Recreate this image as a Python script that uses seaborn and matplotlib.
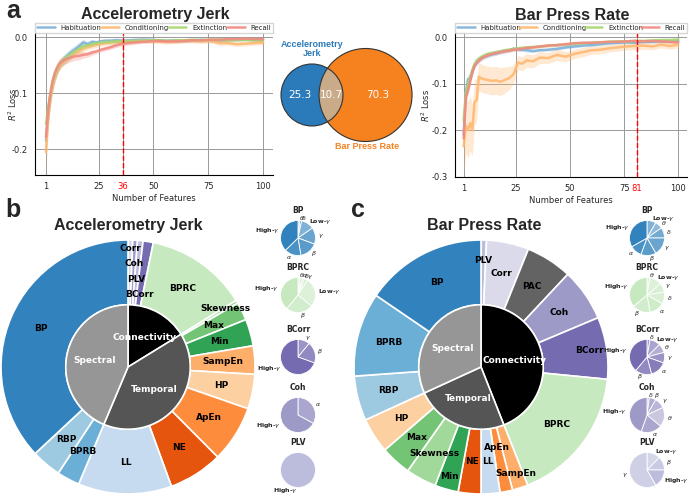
import numpy as np
import matplotlib
matplotlib.use('Agg')
import matplotlib.pyplot as plt
import matplotlib.colors as mcolors
from matplotlib.patches import Circle
import seaborn as sns

W, H = 690, 496

# ---- panel a: feature-count curves ----
PHASES = ['Habituation', 'Conditioning', 'Extinction', 'Recall']
PHASE_COLORS = ['#7fb2da', '#ffb870', '#a8d672', '#f28a80']

FEATURES = [1, 2, 3, 4, 5, 6, 7, 8, 9, 10, 12, 14, 16, 18, 20, 22, 24, 26, 28, 30,
            33, 36, 40, 44, 48, 52, 56, 60, 64, 68, 72, 76, 80, 84, 88, 92, 96, 100]

JERK_HAB = [-0.185, -0.14, -0.105, -0.085, -0.07, -0.058, -0.05, -0.044, -0.04, -0.036, -0.028, -0.022,
            -0.016, -0.009, -0.012, -0.008, -0.009, -0.007, -0.006, -0.006, -0.005, -0.006, -0.005, -0.004,
            -0.004, -0.005, -0.006, -0.005, -0.006, -0.005, -0.004, -0.006, -0.005, -0.004, -0.004, -0.003,
            -0.004, -0.003]
JERK_COND = [-0.205, -0.145, -0.11, -0.088, -0.072, -0.06, -0.052, -0.047, -0.043, -0.04, -0.034, -0.028,
             -0.024, -0.02, -0.017, -0.015, -0.013, -0.011, -0.01, -0.009, -0.008, -0.008, -0.007, -0.006,
             -0.006, -0.007, -0.008, -0.007, -0.006, -0.006, -0.007, -0.006, -0.01, -0.01, -0.012, -0.011,
             -0.01, -0.009]
JERK_EXT = [-0.155, -0.125, -0.1, -0.08, -0.067, -0.056, -0.049, -0.044, -0.04, -0.037, -0.031, -0.025,
            -0.02, -0.016, -0.014, -0.012, -0.01, -0.009, -0.008, -0.008, -0.007, -0.007, -0.006, -0.006,
            -0.005, -0.005, -0.006, -0.005, -0.005, -0.004, -0.005, -0.004, -0.004, -0.005, -0.004, -0.004,
            -0.005, -0.005]
JERK_REC = [-0.178, -0.13, -0.1, -0.078, -0.064, -0.055, -0.048, -0.044, -0.041, -0.039, -0.036, -0.034,
            -0.033, -0.031, -0.03, -0.027, -0.025, -0.022, -0.02, -0.018, -0.014, -0.011, -0.009, -0.008,
            -0.007, -0.006, -0.007, -0.007, -0.006, -0.005, -0.005, -0.004, -0.004, -0.003, -0.003, -0.002,
            -0.003, -0.003]
JERK_SD = [0.02, 0.018, 0.015, 0.013, 0.011, 0.01, 0.009, 0.008, 0.008, 0.008, 0.008, 0.007, 0.007, 0.006,
           0.005, 0.005, 0.004, 0.004, 0.004, 0.004, 0.004, 0.004, 0.004, 0.003, 0.003, 0.003, 0.003, 0.003,
           0.003, 0.003, 0.003, 0.003, 0.003, 0.003, 0.003, 0.003, 0.003, 0.003]
JERK_COND_SD = [0.04, 0.02, 0.015, 0.013, 0.011, 0.01, 0.009, 0.008, 0.008, 0.007, 0.007, 0.006, 0.006,
                0.005, 0.005, 0.005, 0.005, 0.005, 0.005, 0.005, 0.005, 0.005, 0.005, 0.004, 0.004, 0.004,
                0.004, 0.004, 0.004, 0.004, 0.004, 0.004, 0.004, 0.004, 0.004, 0.004, 0.004, 0.004]

BAR_HAB = [-0.21, -0.12, -0.09, -0.09, -0.075, -0.06, -0.055, -0.05, -0.046, -0.043, -0.04, -0.037,
           -0.035, -0.032, -0.03, -0.028, -0.025, -0.026, -0.027, -0.028, -0.03, -0.028, -0.027, -0.025,
           -0.022, -0.02, -0.018, -0.017, -0.015, -0.013, -0.012, -0.011, -0.012, -0.01, -0.01, -0.009,
           -0.009, -0.008]
BAR_COND = [-0.235, -0.19, -0.2, -0.185, -0.2, -0.14, -0.135, -0.085, -0.088, -0.09, -0.092, -0.094,
            -0.093, -0.096, -0.092, -0.088, -0.08, -0.055, -0.057, -0.05, -0.052, -0.044, -0.045, -0.038,
            -0.042, -0.036, -0.032, -0.028, -0.027, -0.024, -0.022, -0.02, -0.019, -0.018, -0.02, -0.016,
            -0.019, -0.016]
BAR_EXT = [-0.18, -0.12, -0.1, -0.085, -0.07, -0.058, -0.05, -0.046, -0.043, -0.04, -0.036, -0.034,
           -0.032, -0.03, -0.028, -0.027, -0.025, -0.024, -0.023, -0.022, -0.021, -0.02, -0.018, -0.017,
           -0.016, -0.014, -0.013, -0.012, -0.011, -0.01, -0.009, -0.009, -0.008, -0.008, -0.007, -0.006,
           -0.006, -0.005]
BAR_REC = [-0.218, -0.13, -0.115, -0.095, -0.075, -0.062, -0.055, -0.05, -0.046, -0.043, -0.039, -0.036,
           -0.034, -0.032, -0.03, -0.029, -0.027, -0.026, -0.025, -0.023, -0.022, -0.02, -0.018, -0.017,
           -0.015, -0.013, -0.012, -0.012, -0.011, -0.01, -0.01, -0.009, -0.008, -0.009, -0.008, -0.009,
           -0.01, -0.011]
BAR_SD = [0.02, 0.015, 0.01, 0.008, 0.007, 0.006, 0.005, 0.005, 0.005, 0.005, 0.004, 0.004, 0.004, 0.004,
          0.004, 0.004, 0.004, 0.004, 0.004, 0.004, 0.003, 0.003, 0.003, 0.003, 0.003, 0.003, 0.003, 0.003,
          0.003, 0.003, 0.003, 0.003, 0.003, 0.003, 0.003, 0.003, 0.003, 0.003]
BAR_COND_SD = [0.06, 0.06, 0.06, 0.06, 0.055, 0.05, 0.045, 0.03, 0.03, 0.03, 0.03, 0.03, 0.03, 0.03,
               0.028, 0.025, 0.02, 0.015, 0.015, 0.015, 0.014, 0.013, 0.012, 0.012, 0.011, 0.01, 0.01,
               0.009, 0.009, 0.008, 0.008, 0.008, 0.008, 0.008, 0.007, 0.007, 0.007, 0.007]

JERK_CUT = 36
BAR_CUT = 81

# ---- venn ----
VENN_ONLY_JERK = 25.3
VENN_SHARED = 10.7
VENN_ONLY_BAR = 70.3

# ---- panels b, c: feature importance donuts ----
FEATURE_GROUP = {'BP': 'Spectral', 'BPRB': 'Spectral', 'RBP': 'Spectral',
                 'LL': 'Temporal', 'NE': 'Temporal', 'ApEn': 'Temporal', 'SampEn': 'Temporal',
                 'HP': 'Temporal', 'Min': 'Temporal', 'Max': 'Temporal', 'Skewness': 'Temporal',
                 'BPRC': 'Connectivity', 'BCorr': 'Connectivity', 'Coh': 'Connectivity',
                 'PLV': 'Connectivity', 'Corr': 'Connectivity', 'PAC': 'Connectivity'}
FEATURE_COLORS = {'BP': '#3182bd', 'BPRB': '#6baed6', 'RBP': '#9ecae1', 'LL': '#c6dbef',
                  'NE': '#e6550d', 'ApEn': '#fd8d3c', 'SampEn': '#fdae6b', 'HP': '#fdd0a2',
                  'Min': '#31a354', 'Max': '#74c476', 'Skewness': '#a1d99b', 'BPRC': '#c7e9c0',
                  'BCorr': '#756bb1', 'Coh': '#9e9ac8', 'PLV': '#bcbddc', 'Corr': '#dadaeb',
                  'PAC': '#636363'}
GROUP_COLORS = {'Spectral': '#969696', 'Temporal': '#555555', 'Connectivity': '#000000'}

JERK_FEATURES = ['Corr', 'Coh', 'PLV', 'BCorr', 'BPRC', 'Skewness', 'Max', 'Min', 'SampEn', 'HP',
                 'ApEn', 'NE', 'LL', 'BPRB', 'RBP', 'BP']
JERK_SHARE = [0.6, 0.6, 0.7, 1.3, 13.0, 0.4, 2.3, 3.4, 3.6, 4.4, 7.2, 6.9, 11.9, 2.9, 3.8, 36.9]
JERK_GROUPS = ['Connectivity', 'Temporal', 'Spectral']

BAR_FEATURES = ['PLV', 'Corr', 'PAC', 'Coh', 'BCorr', 'BPRC', 'SampEn', 'ApEn', 'LL', 'NE', 'Min',
                'Skewness', 'Max', 'HP', 'RBP', 'BPRB', 'BP']
BAR_SHARE = [0.7, 5.4, 5.9, 6.7, 7.9, 17.5, 2.0, 1.6, 2.4, 2.9, 3.0, 3.9, 3.9, 4.5, 5.7, 10.7, 15.5]
BAR_GROUPS = ['Connectivity', 'Temporal', 'Spectral']

# small pies: frequency-band make-up of selected features
BAND_TEX = {'High': r'High-$\gamma$', 'Low': r'Low-$\gamma$', 'gamma': r'$\gamma$', 'beta': r'$\beta$',
            'alpha': r'$\alpha$', 'theta': r'$\theta$', 'delta': r'$\delta$'}
BAND_SHADE = {'High': 0.0, 'alpha': 0.12, 'beta': 0.2, 'gamma': 0.28, 'delta': 0.32, 'Low': 0.38,
              'theta': 0.45}

JERK_PIE_NAMES = ['BP', 'BPRC', 'BCorr', 'Coh', 'PLV']
JERK_BP_BANDS = ['theta', 'delta', 'Low', 'gamma', 'beta', 'alpha', 'High']
JERK_BP_VALS = [1.7, 1.7, 12.0, 15.3, 16.7, 15.3, 37.3]
JERK_BPRC_BANDS = ['theta', 'alpha', 'delta', 'gamma', 'Low', 'beta', 'High']
JERK_BPRC_VALS = [2, 2, 2, 3, 27, 25, 39]
JERK_BCORR_BANDS = ['gamma', 'beta', 'High']
JERK_BCORR_VALS = [11, 19.5, 69.5]
JERK_COH_BANDS = ['alpha', 'High']
JERK_COH_VALS = [33, 67]
JERK_PLV_BANDS = ['Low', 'High']
JERK_PLV_VALS = [0, 100]

BAR_PIE_NAMES = ['BP', 'BPRC', 'BCorr', 'Coh', 'PLV']
BAR_BP_BANDS = ['Low', 'theta', 'delta', 'gamma', 'beta', 'alpha', 'High']
BAR_BP_VALS = [8.3, 7.0, 9.7, 16.7, 13.9, 11.1, 33.3]
BAR_BPRC_BANDS = ['theta', 'Low', 'gamma', 'delta', 'alpha', 'beta', 'High']
BAR_BPRC_VALS = [2.8, 11.1, 8.3, 11.1, 13.9, 16.7, 36.1]
BAR_BCORR_BANDS = ['delta', 'Low', 'theta', 'gamma', 'alpha', 'beta', 'High']
BAR_BCORR_VALS = [2.8, 9.7, 8.3, 9.7, 15.3, 15.3, 38.9]
BAR_COH_BANDS = ['delta', 'beta', 'gamma', 'theta', 'alpha', 'High']
BAR_COH_VALS = [2.2, 6.1, 9.7, 18.0, 19.4, 44.6]
BAR_PLV_BANDS = ['Low', 'beta', 'High', 'gamma']
BAR_PLV_VALS = [12.5, 12.5, 16.7, 58.3]

sns.set_style('whitegrid')
plt.rcParams['font.family'] = ['DejaVu Sans']
plt.rcParams['axes.unicode_minus'] = False
TITLE_FONT = 'Liberation Sans'

fig = plt.figure(figsize=(6.9, 4.96), dpi=100)


def px_rect(x0, y0, w, h):
    return [x0 / W, 1 - (y0 + h) / H, w / W, h / H]


def fig_text(x, y, s, **kw):
    fig.text(x / W, 1 - y / H, s, ha='center', va='center', **kw)


def lighten(c, t):
    r = np.array(mcolors.to_rgb(c))
    return tuple(r + (1 - r) * t)


def draw_curves(ax, means, sds, cut, ylim, yticks, ylab_x):
    for name, color, y, sd in zip(PHASES, PHASE_COLORS, means, sds):
        y = np.array(y)
        sd = np.array(sd)
        ax.fill_between(FEATURES, y - sd, y + sd, color=color, alpha=0.3, lw=0)
        sns.lineplot(x=FEATURES, y=y, ax=ax, color=color, lw=1.8, alpha=0.9, label=name)
    ax.axvline(cut, color='red', ls='--', lw=1.0, zorder=5)
    ticks = sorted([1, 25, 50, 75, 100, cut])
    ax.set_xticks(ticks)
    ax.set_xticklabels([str(t) for t in ticks], fontsize=6)
    for lab, t in zip(ax.get_xticklabels(), ticks):
        if t == cut:
            lab.set_color('red')
    ax.set_yticks(yticks)
    ax.set_yticklabels(['%.1f' % t for t in yticks], fontsize=6)
    ax.set_ylim(*ylim)
    ax.grid(True, color='0.6', lw=0.7)
    ax.set_xlabel('Number of Features', fontsize=6, labelpad=2)
    ax.set_ylabel('$R^2$ Loss', fontsize=6, va='center')
    ax.yaxis.set_label_coords(ylab_x, 0.5)
    ax.tick_params(axis='both', pad=1.5)
    sns.despine(ax=ax)
    for s in ['left', 'bottom']:
        ax.spines[s].set_color('black')
        ax.spines[s].set_linewidth(0.8)
    ax.legend(loc='lower left', bbox_to_anchor=(0, 1.0, 1, 0.07), mode='expand', ncol=4,
              fontsize=5, borderaxespad=0, handlelength=2.6, frameon=True, edgecolor='0.8',
              fancybox=False, borderpad=0.3)


ax1 = fig.add_axes(px_rect(35, 33, 238, 142))
draw_curves(ax1, [JERK_HAB, JERK_COND, JERK_EXT, JERK_REC],
            [JERK_SD, JERK_COND_SD, JERK_SD, JERK_SD], JERK_CUT, (-0.246, 0.008), [0.0, -0.1, -0.2],
            -0.095)
ax1.set_xlim(-4, 104.5)

ax2 = fig.add_axes(px_rect(455, 33, 232, 144))
draw_curves(ax2, [BAR_HAB, BAR_COND, BAR_EXT, BAR_REC],
            [BAR_SD, BAR_COND_SD, BAR_SD, BAR_SD], BAR_CUT, (-0.301, 0.009), [0.0, -0.1, -0.2, -0.3],
            -0.125)
ax2.set_xlim(-3, 104)

fig_text(155, 15, 'Accelerometry Jerk', fontsize=11.5, fontweight='bold', family=TITLE_FONT)
fig_text(572, 15, 'Bar Press Rate', fontsize=11.5, fontweight='bold', family=TITLE_FONT)


# ---- venn diagram (area-proportional) ----
def lens_area(r1, r2, d):
    if d >= r1 + r2:
        return 0.0
    if d <= abs(r1 - r2):
        return np.pi * min(r1, r2) ** 2
    a1 = r1 ** 2 * np.arccos((d ** 2 + r1 ** 2 - r2 ** 2) / (2 * d * r1))
    a2 = r2 ** 2 * np.arccos((d ** 2 + r2 ** 2 - r1 ** 2) / (2 * d * r2))
    a3 = 0.5 * np.sqrt((-d + r1 + r2) * (d + r1 - r2) * (d - r1 + r2) * (d + r1 + r2))
    return a1 + a2 - a3


r_j = np.sqrt((VENN_ONLY_JERK + VENN_SHARED) / np.pi)
r_b = np.sqrt((VENN_ONLY_BAR + VENN_SHARED) / np.pi)
lo, hi = abs(r_b - r_j), r_j + r_b
for _ in range(60):
    mid = 0.5 * (lo + hi)
    if lens_area(r_j, r_b, mid) > VENN_SHARED:
        lo = mid
    else:
        hi = mid
dist = 0.5 * (lo + hi)

axv = fig.add_axes(px_rect(270, 30, 180, 130))
axv.set_xlim(270, 450)
axv.set_ylim(160, 30)
axv.axis('off')
scale = 31.0 / r_j
cj = (312.0, 95.0)
cb = (312.0 + dist * scale, 95.0)
RJ, RB = r_j * scale, r_b * scale
blue, orange, tan = '#2b7bba', '#f5821f', '#c9ab8a'
axv.add_patch(Circle(cj, RJ, facecolor=blue, edgecolor='none', zorder=1))
orange_c = Circle(cb, RB, facecolor=orange, edgecolor='none', zorder=1)
axv.add_patch(orange_c)
inter = Circle(cj, RJ, facecolor=tan, edgecolor='none', zorder=2)
axv.add_patch(inter)
inter.set_clip_path(orange_c)
for c, r in [(cj, RJ), (cb, RB)]:
    axv.add_patch(Circle(c, r, facecolor='none', edgecolor='#333333', lw=0.8, zorder=3))
left_b = cb[0] - RB
right_j = cj[0] + RJ
for x, v in [((cj[0] - RJ + left_b) / 2, VENN_ONLY_JERK), ((left_b + right_j) / 2, VENN_SHARED),
             ((right_j + cb[0] + RB) / 2, VENN_ONLY_BAR)]:
    axv.text(x, 95, '%.1f' % v, color='white', fontsize=7.5, ha='center', va='center', zorder=4)
axv.text(cj[0], 49, 'Accelerometry\nJerk', color=blue, fontsize=6.5, fontweight='bold',
         ha='center', va='center', linespacing=1.1, family=TITLE_FONT)
axv.text(cb[0] + 2, 147, 'Bar Press Rate', color=orange, fontsize=6.5, fontweight='bold',
         ha='center', va='center', family=TITLE_FONT)


# ---- donuts ----
def draw_donut(cx, cy, names, shares, group_order, label_r):
    R = 127
    ax = fig.add_axes(px_rect(cx - R, cy - R, 2 * R, 2 * R))
    colors = [FEATURE_COLORS[n] for n in names]
    wedges, _ = ax.pie(shares, radius=1, startangle=90, counterclock=False, colors=colors,
                       wedgeprops=dict(width=0.51, edgecolor='white', linewidth=1.2))
    inner = [sum(s for n, s in zip(names, shares) if FEATURE_GROUP[n] == g) for g in group_order]
    iw, _ = ax.pie(inner, radius=0.49, startangle=90, counterclock=False,
                   colors=[GROUP_COLORS[g] for g in group_order],
                   wedgeprops=dict(edgecolor='white', linewidth=1.2))
    ax.set_xlim(-1, 1)
    ax.set_ylim(-1, 1)
    for w, n in zip(wedges, names):
        a = np.deg2rad((w.theta1 + w.theta2) / 2)
        r = label_r.get(n, 0.75)
        ax.text(r * np.cos(a), r * np.sin(a), n, ha='center', va='center', fontsize=6.5,
                fontweight='bold', color='black')
    for w, g in zip(iw, group_order):
        a = np.deg2rad((w.theta1 + w.theta2) / 2)
        ax.text(0.27 * np.cos(a), 0.27 * np.sin(a), g, ha='center', va='center', fontsize=6.5,
                fontweight='bold', color='white')


draw_donut(128, 367, JERK_FEATURES, JERK_SHARE, JERK_GROUPS,
           {'Corr': 0.93, 'Coh': 0.815, 'PLV': 0.69, 'BCorr': 0.58, 'Skewness': 0.89})
draw_donut(481, 367, BAR_FEATURES, BAR_SHARE, BAR_GROUPS,
           {'PLV': 0.84, 'SampEn': 0.88, 'ApEn': 0.645, 'Min': 0.9, 'Skewness': 0.775, 'BCorr': 0.86})


def small_pie(cx, cy, title, bands, vals):
    pr = 17.5
    ax = fig.add_axes(px_rect(cx - pr, cy - pr, 2 * pr, 2 * pr))
    base = FEATURE_COLORS[title]
    cols = [lighten(base, BAND_SHADE[b]) for b in bands]
    labels = [BAND_TEX[b] if v > 0 else '' for b, v in zip(bands, vals)]
    _, texts = ax.pie(vals, radius=1, startangle=90, counterclock=False, colors=cols, labels=labels,
                      labeldistance=1.15, wedgeprops=dict(edgecolor='white', linewidth=0.6),
                      textprops=dict(fontsize=4.5))
    for t, b in zip(texts, bands):
        if b in ('High', 'Low'):
            t.set_fontweight('bold')
    ax.set_xlim(-1, 1)
    ax.set_ylim(-1, 1)
    ax.text(0, 1.55, title, ha='center', va='center', fontsize=5.5, fontweight='bold')


PIE_Y = [238, 295, 357, 415, 470]
for y, name, bands, vals in zip(PIE_Y, JERK_PIE_NAMES,
                                [JERK_BP_BANDS, JERK_BPRC_BANDS, JERK_BCORR_BANDS, JERK_COH_BANDS, JERK_PLV_BANDS],
                                [JERK_BP_VALS, JERK_BPRC_VALS, JERK_BCORR_VALS, JERK_COH_VALS, JERK_PLV_VALS]):
    small_pie(298, y, name, bands, vals)
for y, name, bands, vals in zip(PIE_Y, BAR_PIE_NAMES,
                                [BAR_BP_BANDS, BAR_BPRC_BANDS, BAR_BCORR_BANDS, BAR_COH_BANDS, BAR_PLV_BANDS],
                                [BAR_BP_VALS, BAR_BPRC_VALS, BAR_BCORR_VALS, BAR_COH_VALS, BAR_PLV_VALS]):
    small_pie(647, y, name, bands, vals)

fig_text(128, 226, 'Accelerometry Jerk', fontsize=11.5, fontweight='bold', family=TITLE_FONT)
fig_text(484, 226, 'Bar Press Rate', fontsize=11.5, fontweight='bold', family=TITLE_FONT)

fig_text(13, 11, 'a', fontsize=18, fontweight='bold', family=TITLE_FONT)
fig_text(13, 210, 'b', fontsize=18, fontweight='bold', family=TITLE_FONT)
fig_text(358, 210, 'c', fontsize=18, fontweight='bold', family=TITLE_FONT)

fig.savefig('out.png', dpi=100)
